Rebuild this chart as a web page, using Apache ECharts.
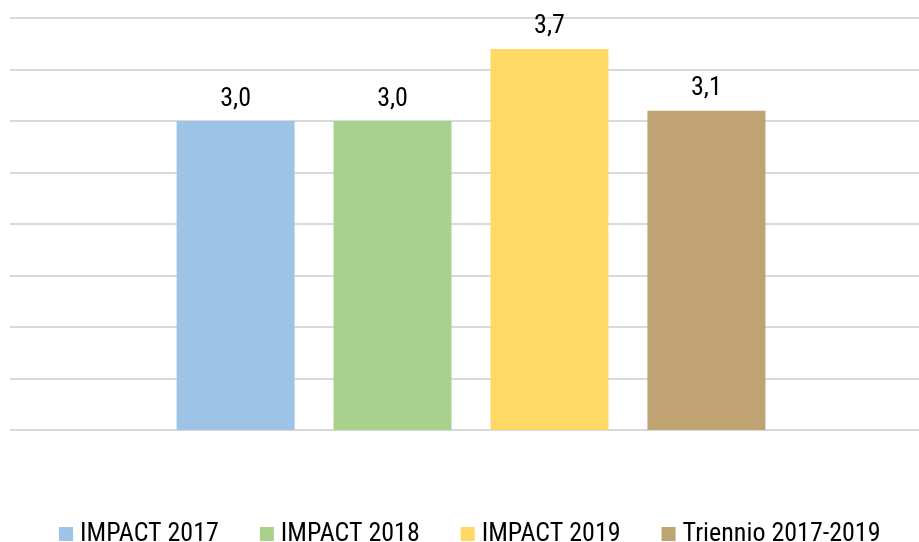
<!DOCTYPE html>
<html>
<head>
<meta charset="utf-8">
<script src="https://cdn.jsdelivr.net/npm/echarts@6/dist/echarts.min.js"></script>
<style>
  html, body { margin: 0; padding: 0; background: #fff; }
  #main { width: 919px; height: 542px; }
</style>
</head>
<body>
<div id="main"></div>
<script>
var categories = ['IMPACT'];
var seriesNames = ['IMPACT 2017', 'IMPACT 2018', 'IMPACT 2019', 'Triennio 2017-2019'];
var seriesValues = [3.0, 3.0, 3.7, 3.1];
var seriesColors = ['#9DC3E6', '#A9D18E', '#FFD966', '#C0A372'];

var font = "'Roboto Condensed', 'Liberation Sans Narrow', 'DejaVu Sans Condensed', sans-serif";

var myChart = echarts.init(document.getElementById('main'), null, { renderer: 'canvas' });

var series = [];
for (var i = 0; i < seriesNames.length; i++) {
    series.push({
        name: seriesNames[i],
        type: 'bar',
        data: [seriesValues[i]],
        barWidth: 118,
        barGap: '33%',
        itemStyle: { color: seriesColors[i] },
        label: {
            show: true,
            position: 'top',
            distance: 9,
            color: '#000',
            fontFamily: font,
            fontSize: 26,
            formatter: function (p) {
                return p.value.toFixed(1).replace('.', ',');
            }
        }
    });
}

var option = {
    animation: false,
    grid: { left: 10, width: 922, top: 18, bottom: 112, outerBoundsMode: 'none', containLabel: false },
    legend: {
        data: seriesNames,
        left: 54,
        top: 516,
        icon: 'rect',
        itemWidth: 14,
        itemHeight: 14,
        itemGap: 41,
        textStyle: {
            fontFamily: font,
            fontSize: 26,
            color: '#000',
            width: 137,
            overflow: 'none',
            padding: [0, 0, 0, 2]
        }
    },
    xAxis: {
        type: 'category',
        data: categories,
        axisLine: { show: false },
        axisTick: { show: false },
        axisLabel: { show: false }
    },
    yAxis: {
        type: 'value',
        min: 0,
        max: 4,
        interval: 0.5,
        axisLabel: { show: false },
        axisLine: { show: false },
        axisTick: { show: false },
        splitLine: { lineStyle: { color: '#d9d9d9', width: 2 } }
    },
    series: series
};

myChart.setOption(option);
</script>
</body>
</html>
